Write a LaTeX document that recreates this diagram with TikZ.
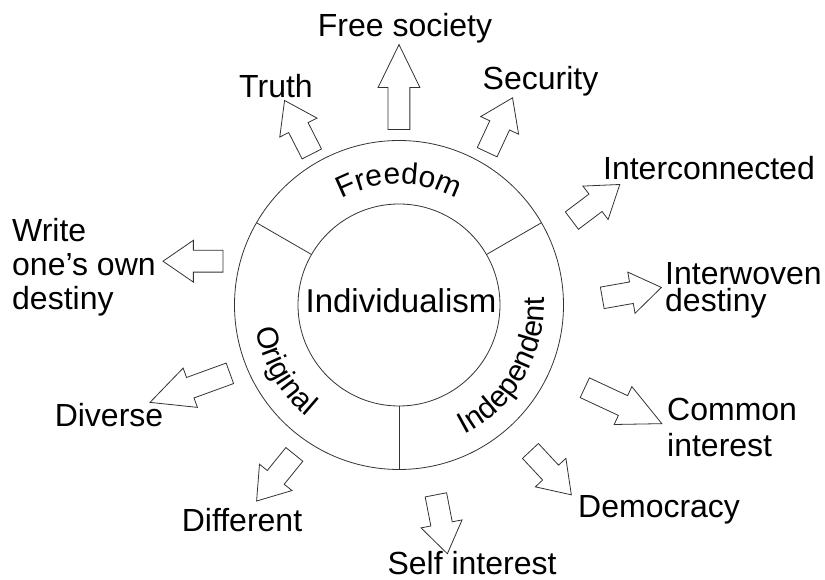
\documentclass[tikz,border=0pt]{standalone}
\usepackage{fontspec}
\setmainfont{Liberation Sans}
\usetikzlibrary{shapes.arrows,decorations.text}
\tikzset{
  ring/.style={line width=0.8pt, draw=black!80},
  blockarrow/.style={single arrow, draw=black!80, line width=0.8pt, fill=white,
    inner xsep=0pt, inner ysep=10.5pt, minimum width=41, single arrow head extend=10,
    minimum height=60, single arrow tip angle=69, anchor=tail},
  longarrow/.style={minimum height=85, single arrow tip angle=52},
  lbl/.style={font=\fontsize{32}{34}\selectfont, inner sep=0pt, anchor=base},
  ringtext/.style={decorate, decoration={text along path, text align=center,
    text={|\fontsize{30}{30}\selectfont|#1}}}
}

\begin{document}
\begin{tikzpicture}[x=1pt, y=1pt]
    \useasboundingbox (-399,-275) rectangle (426,305);
    % the two rings and the three spokes
    \draw[ring] (0,0) circle [radius=164.5];
    \draw[ring] (0,0) circle [radius=101];
    \foreach \a in {30,150,270}
      \draw[ring] (\a:101) -- (\a:164.5);
    \node[lbl, font=\fontsize{33}{36}\selectfont] (core) at (2,-8) {Individualism};
    \path[ringtext=Freedom] (150:121) arc [start angle=150, end angle=30, radius=121];
    \path[ringtext=Independent] (270:145) arc [start angle=270, end angle=390, radius=145];
    \path[ringtext=Original] (150:145) arc [start angle=150, end angle=270, radius=145];

    % arrows pointing out
    \node[blockarrow, rotate=117] (a-truth) at (120:174) {};
    \node[blockarrow, longarrow, rotate=90] (a-free) at (90:175) {};
    \node[blockarrow, rotate=65] (a-security) at (60:176) {};
    \node[blockarrow, rotate=37] (a-interconn) at (26:192) {};
    \node[blockarrow, rotate=10] (a-interwoven) at (2:203) {};
    \node[blockarrow, longarrow, rotate=-25] (a-common) at (-24:203) {};
    \node[blockarrow, rotate=-47] (a-democracy) at (-48:196) {};
    \node[blockarrow, rotate=-79] (a-self) at (-79:193) {};
    \node[blockarrow, rotate=231] (a-different) at (235:182) {};
    \node[blockarrow, longarrow, rotate=200] (a-diverse) at (202:182) {};
    \node[blockarrow, rotate=180] (a-write) at (166:181) {};

    % labels (multi-line ones sit on their last baseline)
    \node[lbl] (truth) at (-123,207) {Truth};
    \node[lbl] (free) at (6,268) {Free society};
    \node[lbl] (security) at (141.5,215) {Security};
    \node[lbl] (interconn) at (310,125) {Interconnected};
    \node[lbl, anchor=base west, align=left, font=\fontsize{32}{27}\selectfont] (interwoven) at (266,-7) {Interwoven\\destiny};
    \node[lbl, anchor=base west, align=left, font=\fontsize{32}{36}\selectfont] (common) at (268,-152) {Common\\interest};
    \node[lbl, anchor=base west] (democracy) at (179,-213) {Democracy};
    \node[lbl] (self) at (73,-270) {Self interest};
    \node[lbl] (different) at (-157,-227) {Different};
    \node[lbl] (diverse) at (-290,-122) {Diverse};
    \node[lbl, anchor=base west, align=left] (write) at (-387,-5) {Write\\one’s own\\destiny};
\end{tikzpicture}
\end{document}
